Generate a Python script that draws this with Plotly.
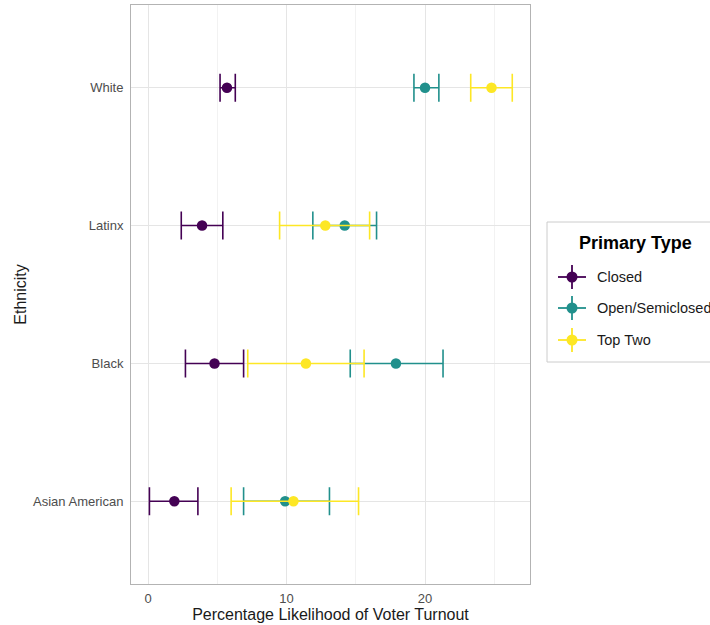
import plotly.graph_objects as go

ethnicities = ["Asian American", "Black", "Latinx", "White"]
primary_types = ["Closed", "Open/Semiclosed", "Top Two"]
colors = ["#440154", "#21908C", "#FDE725"]

closed_est = [1.9, 4.8, 3.9, 5.7]
closed_lo = [0.1, 2.7, 2.4, 5.2]
closed_hi = [3.6, 6.9, 5.4, 6.3]

open_est = [9.9, 17.9, 14.2, 20.0]
open_lo = [6.9, 14.6, 11.9, 19.2]
open_hi = [13.1, 21.3, 16.5, 21.0]

top_est = [10.5, 11.4, 12.8, 24.8]
top_lo = [6.0, 7.2, 9.5, 23.3]
top_hi = [15.2, 15.6, 16.0, 26.3]

series = [
    (closed_est, closed_lo, closed_hi),
    (open_est, open_lo, open_hi),
    (top_est, top_lo, top_hi),
]

FONT = "Liberation Sans, Arial, sans-serif"
W, H = 710, 625
ML, MR, MT, MB = 131, 180, 5, 41
PW, PH = W - ML - MR, H - MT - MB


def px_x(p):
    return (p - ML) / PW


def px_y(p):
    return (H - MB - p) / PH


fig = go.Figure()
for name, color, (est, lo, hi) in zip(primary_types, colors, series):
    fig.add_trace(go.Scatter(
        x=est, y=ethnicities, mode="markers", name=name,
        showlegend=False,
        marker=dict(color=color, size=10.5),
        error_x=dict(type="data", symmetric=False,
                     array=[h - e for h, e in zip(hi, est)],
                     arrayminus=[e - l for e, l in zip(est, lo)],
                     color=color, thickness=1.6, width=14),
    ))

# manual legend (ggplot-style key: point with crossing error bars)
shapes = [dict(type="rect", xref="paper", yref="paper",
               x0=px_x(547), x1=px_x(760), y0=px_y(362), y1=px_y(222),
               line=dict(color="#cccccc", width=1), fillcolor="white", layer="below")]
annotations = [dict(text="<b>Primary Type</b>", xref="paper", yref="paper",
                    x=px_x(577), y=px_y(243), xanchor="left", yanchor="middle",
                    showarrow=False, font=dict(size=18, color="#000000", family=FONT))]
item_y = [277, 308, 340]
kx = 572
for name, color, iy in zip(primary_types, colors, item_y):
    shapes.append(dict(type="line", xref="paper", yref="paper",
                       x0=px_x(kx - 14), x1=px_x(kx + 14), y0=px_y(iy), y1=px_y(iy),
                       line=dict(color=color, width=1.8)))
    shapes.append(dict(type="line", xref="paper", yref="paper",
                       x0=px_x(kx), x1=px_x(kx), y0=px_y(iy - 12), y1=px_y(iy + 12),
                       line=dict(color=color, width=1.8)))
    shapes.append(dict(type="circle", xref="paper", yref="paper",
                       x0=px_x(kx - 5.5), x1=px_x(kx + 5.5), y0=px_y(iy + 5.5), y1=px_y(iy - 5.5),
                       line=dict(color=color, width=0), fillcolor=color))
    annotations.append(dict(text=name, xref="paper", yref="paper",
                            x=px_x(595), y=px_y(iy), xanchor="left", yanchor="middle",
                            showarrow=False, font=dict(size=14.5, color="#1a1a1a", family=FONT)))

fig.update_layout(
    width=W, height=H,
    margin=dict(l=ML, r=MR, t=MT, b=MB, autoexpand=False),
    paper_bgcolor="white", plot_bgcolor="white",
    font=dict(family=FONT, size=13, color="#4d4d4d"),
    xaxis=dict(
        range=[-1.23, 27.58], tickvals=[0, 10, 20], ticks="",
        showgrid=True, gridcolor="#e5e5e5", gridwidth=1,
        minor=dict(tickvals=[5, 15, 25], showgrid=True, gridcolor="#f2f2f2", gridwidth=1),
        zeroline=False, showline=True, linecolor="#b3b3b3", mirror=True, linewidth=1,
        title=dict(text="Percentage Likelihood of Voter Turnout", font=dict(size=16, color="#1a1a1a"), standoff=1),
        tickfont=dict(size=13, color="#4d4d4d"),
        ticklabelstandoff=2,
    ),
    yaxis=dict(
        type="category", categoryorder="array", categoryarray=ethnicities,
        range=[-0.6, 3.6], ticks="",
        showgrid=True, gridcolor="#e5e5e5", gridwidth=1,
        zeroline=False, showline=True, linecolor="#b3b3b3", mirror=True, linewidth=1,
        title=dict(text="Ethnicity", font=dict(size=16, color="#1a1a1a"), standoff=2),
        tickfont=dict(size=13, color="#4d4d4d"),
        ticklabelstandoff=4,
    ),
    showlegend=False,
    shapes=shapes,
    annotations=annotations,
)

fig.write_html("out.html", config={"displayModeBar": False},
               post_script="document.body.style.margin='0';")
